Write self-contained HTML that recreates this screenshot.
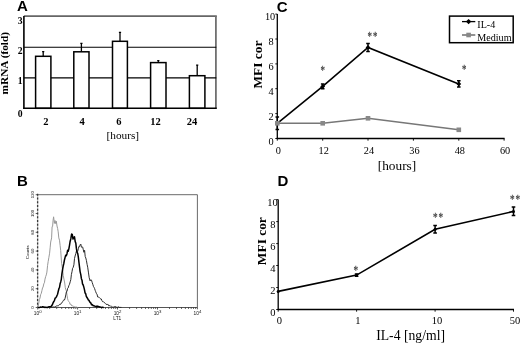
<!DOCTYPE html>
<html><head><meta charset="utf-8"><title>Figure</title>
<style>
html,body{margin:0;padding:0;background:#fff;}
svg{display:block;filter:grayscale(1);}
text{font-family:"Liberation Serif","Times New Roman",serif;fill:#000;}
.lab{font-family:"Liberation Sans",Arial,sans-serif;font-weight:bold;font-size:15px;}
.b{font-weight:bold;}
.tiny{font-family:"Liberation Sans",Arial,sans-serif;font-size:4.8px;fill:#111;}
</style></head><body>
<svg width="520" height="343" viewBox="0 0 520 343">
<rect width="520" height="343" fill="#fff"/>

<g id="panelA">
<text class="lab" x="16.9" y="11">A</text>
<line x1="23.9" y1="16.1" x2="216.8" y2="16.1" stroke="#666" stroke-width="1.7"/>
<line x1="215.9" y1="16.1" x2="215.9" y2="108.35" stroke="#707070" stroke-width="1.8"/>
<line x1="23.9" y1="77.9" x2="216.3" y2="77.9" stroke="#000" stroke-width="1.15"/>
<line x1="23.9" y1="47.2" x2="216.3" y2="47.2" stroke="#000" stroke-width="1.15"/>
<rect x="35.6" y="56.3" width="15.299999999999997" height="52.0" fill="#fff" stroke="#000" stroke-width="1.5"/>
<path d="M43.2 56.3V51.3M42.1 51.699999999999996h2.2" stroke="#000" stroke-width="1.3" fill="none"/>
<rect x="73.8" y="51.8" width="15.200000000000003" height="56.5" fill="#fff" stroke="#000" stroke-width="1.5"/>
<path d="M81.4 51.8V43.0M80.3 43.4h2.2" stroke="#000" stroke-width="1.3" fill="none"/>
<rect x="112.5" y="41.3" width="14.900000000000006" height="67.0" fill="#fff" stroke="#000" stroke-width="1.5"/>
<path d="M120.0 41.3V32M118.9 32.4h2.2" stroke="#000" stroke-width="1.3" fill="none"/>
<rect x="150.6" y="62.6" width="15.400000000000006" height="45.7" fill="#fff" stroke="#000" stroke-width="1.5"/>
<path d="M158.3 62.6V60.3M157.2 60.699999999999996h2.2" stroke="#000" stroke-width="1.3" fill="none"/>
<rect x="189.4" y="75.7" width="15.5" height="32.6" fill="#fff" stroke="#000" stroke-width="1.5"/>
<path d="M197.2 75.7V64.7M196.1 65.10000000000001h2.2" stroke="#000" stroke-width="1.3" fill="none"/>
<line x1="23.9" y1="15.899999999999999" x2="23.9" y2="108.94999999999999" stroke="#000" stroke-width="1.6"/>
<line x1="23.299999999999997" y1="108.35" x2="216.8" y2="108.35" stroke="#000" stroke-width="1.5"/>
<text class="b" font-size="9.7" x="22.6" y="23.7" text-anchor="end">3</text>
<text class="b" font-size="9.7" x="22.6" y="54.1" text-anchor="end">2</text>
<text class="b" font-size="9.7" x="22.6" y="84.3" text-anchor="end">1</text>
<text class="b" font-size="9.7" x="22.6" y="117" text-anchor="end">0</text>
<text class="b" font-size="10.5" x="45.8" y="124.6" text-anchor="middle">2</text>
<text class="b" font-size="10.5" x="82" y="124.6" text-anchor="middle">4</text>
<text class="b" font-size="10.5" x="118.8" y="124.6" text-anchor="middle">6</text>
<text class="b" font-size="10.5" x="155.5" y="124.6" text-anchor="middle">12</text>
<text class="b" font-size="10.5" x="192" y="124.6" text-anchor="middle">24</text>
<text font-size="11.3" x="122.8" y="138.8" text-anchor="middle">[hours]</text>
<text class="b" font-size="11.3" transform="translate(7.7,63.2) rotate(-90)" text-anchor="middle">mRNA (fold)</text>
</g>
<g id="panelB">
<text class="lab" x="17" y="186.2">B</text>
<path d="M37.7 194.7H197.4V307.5" fill="none" stroke="#444" stroke-width="0.8"/>
<line x1="37.7" y1="194.7" x2="37.7" y2="307.5" stroke="#999" stroke-width="0.7"/>
<line x1="37.6" y1="193.7" x2="37.6" y2="307.5" stroke="#3a3a3a" stroke-width="1.3" stroke-dasharray="2 1.76"/>
<line x1="35.7" y1="194.7" x2="37.7" y2="194.7" stroke="#333" stroke-width="0.8"/>
<line x1="35.7" y1="213.5" x2="37.7" y2="213.5" stroke="#333" stroke-width="0.8"/>
<line x1="35.7" y1="232.3" x2="37.7" y2="232.3" stroke="#333" stroke-width="0.8"/>
<line x1="35.7" y1="251.1" x2="37.7" y2="251.1" stroke="#333" stroke-width="0.8"/>
<line x1="35.7" y1="269.9" x2="37.7" y2="269.9" stroke="#333" stroke-width="0.8"/>
<line x1="35.7" y1="288.7" x2="37.7" y2="288.7" stroke="#333" stroke-width="0.8"/>
<line x1="35.7" y1="307.5" x2="37.7" y2="307.5" stroke="#333" stroke-width="0.8"/>
<line x1="37.7" y1="307.5" x2="197.4" y2="307.5" stroke="#555" stroke-width="1.1"/>
<path d="M37.7 307.5v2.0M49.7 307.5v1.4M56.7 307.5v1.4M61.7 307.5v1.4M65.6 307.5v1.4M68.8 307.5v1.4M71.4 307.5v1.4M73.8 307.5v1.4M75.8 307.5v1.4M77.6 307.5v2.0M89.6 307.5v1.4M96.7 307.5v1.4M101.7 307.5v1.4M105.5 307.5v1.4M108.7 307.5v1.4M111.4 307.5v1.4M113.7 307.5v1.4M115.7 307.5v1.4M117.5 307.5v2.0M129.6 307.5v1.4M136.6 307.5v1.4M141.6 307.5v1.4M145.5 307.5v1.4M148.6 307.5v1.4M151.3 307.5v1.4M153.6 307.5v1.4M155.6 307.5v1.4M157.5 307.5v2.0M169.5 307.5v1.4M176.5 307.5v1.4M181.5 307.5v1.4M185.4 307.5v1.4M188.5 307.5v1.4M191.2 307.5v1.4M193.5 307.5v1.4M195.6 307.5v1.4M197.4 307.5v1.8" stroke="#222" stroke-width="0.75" fill="none"/>
<polyline points="38.1,306.3 38.8,302.9 39.4,299.5 40.0,298.0 40.6,294.7 41.3,293.3 41.9,290.7 42.5,288.0 43.1,287.0 43.8,283.8 44.4,282.8 45.0,279.1 45.7,276.5 46.3,274.9 46.9,272.1 47.6,265.3 48.2,261.4 48.9,257.3 49.6,253.2 50.2,247.2 50.7,242.0 51.6,237.9 52.1,226.6 52.6,226.5 53.1,220.2 53.6,216.8 54.4,223.4 55.0,220.5 55.7,223.6 56.3,221.2 57.0,226.0 57.6,228.4 58.2,231.8 58.8,237.9 59.5,240.2 60.1,245.3 60.7,250.6 61.6,263.2 62.1,266.4 62.7,270.2 63.2,275.4 64.1,279.9 64.7,283.0 65.3,287.7 65.8,289.7 66.4,290.9 67.0,295.2 67.6,298.8 68.2,300.6 68.8,301.6 69.5,302.3 70.1,304.4 70.7,304.0 71.3,305.0 72.0,306.0 72.6,305.9 73.2,306.4 73.7,306.1 74.3,306.8 74.9,307.1 75.4,307.0 76.0,307.4 76.6,307.0 77.1,307.4 77.7,307.4" fill="none" stroke="#999" stroke-width="1"/>
<polyline points="51.3,307.1 51.9,307.1 52.5,307.0 53.2,306.8 53.8,307.1 54.4,307.1 55.0,306.5 55.7,306.6 56.3,305.8 56.9,306.2 57.5,305.8 58.2,305.9 58.8,305.4 59.4,304.5 60.0,304.3 60.7,304.3 61.3,303.2 61.9,302.9 62.6,301.7 63.2,300.8 63.8,299.8 64.5,300.0 65.1,298.2 65.8,294.9 66.4,291.8 67.0,291.5 67.6,288.4 68.2,287.9 68.8,285.7 69.5,284.3 70.2,281.8 70.8,279.6 71.4,274.5 72.0,271.7 72.6,268.3 73.2,267.4 73.9,264.8 74.5,258.5 75.1,256.0 75.8,253.7 76.4,251.2 77.1,251.7 77.7,251.4 78.3,248.8 78.9,246.4 79.5,246.7 80.2,244.7 80.8,244.0 81.4,247.2 82.1,246.9 82.7,247.1 83.3,249.8 83.9,252.3 84.6,250.3 85.2,256.5 85.8,258.0 86.4,260.4 87.1,264.4 87.7,267.2 88.5,272.9 89.2,277.7 90.1,280.9 90.8,279.7 91.5,280.2 92.2,282.5 92.8,284.3 93.5,286.6 94.0,287.3 94.6,288.6 95.2,290.4 95.7,291.7 96.4,293.5 97.0,294.1 97.7,297.0 98.2,297.1 98.8,297.0 99.4,297.7 100.0,298.4 100.7,298.9 101.3,299.0 101.9,300.6 102.5,301.6 103.2,301.5 103.8,302.3 104.5,302.5 105.1,303.3 105.7,303.9 106.3,304.0 107.0,305.0 107.6,304.4 108.2,304.5 108.8,305.9 109.4,305.7 110.1,305.6 110.7,306.3 111.3,306.1 111.9,306.7 112.6,307.2 113.2,307.1 113.8,307.0 114.4,306.6 115.1,306.7 115.7,306.5 116.3,307.2 117.0,307.0 117.6,307.3 118.2,306.9 118.9,306.9 119.5,307.4 120.1,307.4 120.8,307.4 121.4,307.4" fill="none" stroke="#222" stroke-width="0.95"/>
<polyline points="38.0,307.4 38.6,307.4 39.2,307.4 39.8,307.4 40.4,307.0 41.0,307.3 41.6,307.1 42.2,306.8 42.8,306.8 43.4,307.0 44.0,307.0 44.7,307.4 45.3,307.4 45.9,307.1 46.5,307.4 47.1,307.4 47.7,307.4 48.3,306.9 48.9,306.8 49.5,306.8 50.1,306.7 50.7,306.7 51.3,306.1 52.0,305.3 52.6,304.2 53.2,302.5 53.9,301.5 54.5,300.4 55.1,298.2 55.7,297.8 56.4,296.9 57.0,295.5 57.6,294.2 58.2,291.5 58.9,288.7 59.5,287.5 60.1,283.8 60.7,281.9 61.3,279.5 61.9,273.8 62.6,269.3 63.2,266.2 63.8,263.5 64.5,259.7 65.1,257.4 65.7,255.2 66.3,255.8 67.0,253.7 67.6,250.3 68.2,251.3 68.8,249.1 69.5,245.3 70.1,241.5 70.8,238.9 71.6,234.1 72.3,234.5 73.0,239.1 73.8,237.6 74.5,236.8 75.2,241.6 75.8,243.0 76.4,248.4 77.0,252.1 77.7,253.3 78.3,256.8 78.9,262.0 79.5,266.9 80.1,271.6 80.8,274.6 81.4,278.7 82.0,280.2 82.5,283.8 83.2,285.0 83.9,287.4 84.5,289.9 85.0,292.7 85.7,293.7 86.3,296.3 87.0,297.5 87.7,298.7 88.3,299.9 89.0,300.4 89.6,301.8 90.2,302.4 90.9,303.1 91.5,304.8 92.1,304.5 92.7,305.1 93.2,305.7 93.8,305.8 94.4,305.9 95.0,306.2 95.7,306.4 96.3,306.7 97.0,306.1 97.6,306.7 98.2,306.4 98.8,306.5 99.5,307.1 100.1,306.9 100.7,307.1 101.3,307.3 101.9,307.4 102.6,307.2 103.2,307.4 103.8,307.4" fill="none" stroke="#000" stroke-width="1.5" stroke-linejoin="round"/>
<text class="tiny" style="font-size:4.2px" transform="translate(34.3,194.7) rotate(-90)" text-anchor="middle">120</text>
<text class="tiny" style="font-size:4.2px" transform="translate(34.3,213.5) rotate(-90)" text-anchor="middle">100</text>
<text class="tiny" style="font-size:4.2px" transform="translate(34.3,232.3) rotate(-90)" text-anchor="middle">80</text>
<text class="tiny" style="font-size:4.2px" transform="translate(34.3,251.1) rotate(-90)" text-anchor="middle">60</text>
<text class="tiny" style="font-size:4.2px" transform="translate(34.3,269.9) rotate(-90)" text-anchor="middle">40</text>
<text class="tiny" style="font-size:4.2px" transform="translate(34.3,288.7) rotate(-90)" text-anchor="middle">20</text>
<text class="tiny" style="font-size:4.2px" transform="translate(34.3,307.5) rotate(-90)" text-anchor="middle">0</text>
<text class="tiny" style="font-size:4.4px" transform="translate(28.6,252.2) rotate(-90)" text-anchor="middle">Counts</text>
<text class="tiny" x="37.7" y="315.4" text-anchor="middle">10<tspan dy="-2.1" font-size="4.3">0</tspan></text>
<text class="tiny" x="77.6" y="315.4" text-anchor="middle">10<tspan dy="-2.1" font-size="4.3">1</tspan></text>
<text class="tiny" x="117.5" y="315.4" text-anchor="middle">10<tspan dy="-2.1" font-size="4.3">2</tspan></text>
<text class="tiny" x="157.5" y="315.4" text-anchor="middle">10<tspan dy="-2.1" font-size="4.3">3</tspan></text>
<text class="tiny" x="197.4" y="315.4" text-anchor="middle">10<tspan dy="-2.1" font-size="4.3">4</tspan></text>
<text class="tiny" x="117.3" y="319.8" text-anchor="middle">LT1</text>
</g>
<g id="panelC">
<text class="lab" x="276.8" y="12">C</text>
<line x1="277.3" y1="14.1" x2="277.3" y2="139.1" stroke="#000" stroke-width="1.3"/>
<line x1="276.7" y1="138.5" x2="504.6" y2="138.5" stroke="#000" stroke-width="1.3"/>
<line x1="277.3" y1="138.5" x2="277.3" y2="140.7" stroke="#000" stroke-width="0.9"/>
<text font-size="10.3" x="278.3" y="153.5" text-anchor="middle">0</text>
<line x1="322.7" y1="138.5" x2="322.7" y2="140.7" stroke="#000" stroke-width="0.9"/>
<text font-size="10.3" x="323.7" y="153.5" text-anchor="middle">12</text>
<line x1="368.0" y1="138.5" x2="368.0" y2="140.7" stroke="#000" stroke-width="0.9"/>
<text font-size="10.3" x="369.0" y="153.5" text-anchor="middle">24</text>
<line x1="413.4" y1="138.5" x2="413.4" y2="140.7" stroke="#000" stroke-width="0.9"/>
<text font-size="10.3" x="414.4" y="153.5" text-anchor="middle">36</text>
<line x1="458.8" y1="138.5" x2="458.8" y2="140.7" stroke="#000" stroke-width="0.9"/>
<text font-size="10.3" x="459.8" y="153.5" text-anchor="middle">48</text>
<line x1="504.1" y1="138.5" x2="504.1" y2="140.7" stroke="#000" stroke-width="0.9"/>
<text font-size="10.3" x="505.1" y="153.5" text-anchor="middle">60</text>
<line x1="275.3" y1="138.5" x2="277.3" y2="138.5" stroke="#000" stroke-width="0.9"/>
<text font-size="10.3" x="273.6" y="144.8" text-anchor="end">0</text>
<line x1="275.3" y1="113.6" x2="277.3" y2="113.6" stroke="#000" stroke-width="0.9"/>
<text font-size="10.3" x="273.6" y="119.9" text-anchor="end">2</text>
<line x1="275.3" y1="88.7" x2="277.3" y2="88.7" stroke="#000" stroke-width="0.9"/>
<text font-size="10.3" x="273.6" y="95.0" text-anchor="end">4</text>
<line x1="275.3" y1="63.9" x2="277.3" y2="63.9" stroke="#000" stroke-width="0.9"/>
<text font-size="10.3" x="273.6" y="70.2" text-anchor="end">6</text>
<line x1="275.3" y1="39.0" x2="277.3" y2="39.0" stroke="#000" stroke-width="0.9"/>
<text font-size="10.3" x="273.6" y="45.3" text-anchor="end">8</text>
<line x1="275.3" y1="14.1" x2="277.3" y2="14.1" stroke="#000" stroke-width="0.9"/>
<text font-size="10.3" x="275.2" y="20.4" text-anchor="end">10</text>
<text font-size="13.3" x="397" y="169.5" text-anchor="middle">[hours]</text>
<text class="b" font-size="13.4" transform="translate(262.4,64.6) rotate(-90)" text-anchor="middle">MFI cor</text>
<polyline points="277.3,123.3 322.7,86.4 368.0,47.4 458.8,83.9" fill="none" stroke="#000" stroke-width="1.6"/>
<path d="M277.3 120.9l2.4 2.4l-2.4 2.4l-2.4 -2.4z" fill="#000"/>
<path d="M277.3 117.1V129.5M275.5 117.1h3.6M275.5 129.5h3.6" stroke="#000" stroke-width="1.5" fill="none"/>
<path d="M322.7 84.0l2.4 2.4l-2.4 2.4l-2.4 -2.4z" fill="#000"/>
<path d="M322.7 84.1V88.7M320.9 84.1h3.6M320.9 88.7h3.6" stroke="#000" stroke-width="1.5" fill="none"/>
<path d="M368.0 45.0l2.4 2.4l-2.4 2.4l-2.4 -2.4z" fill="#000"/>
<path d="M368.0 43.5V51.4M366.2 43.5h3.6M366.2 51.4h3.6" stroke="#000" stroke-width="1.5" fill="none"/>
<path d="M458.8 81.5l2.4 2.4l-2.4 2.4l-2.4 -2.4z" fill="#000"/>
<path d="M458.8 80.8V86.9M457.0 80.8h3.6M457.0 86.9h3.6" stroke="#000" stroke-width="1.5" fill="none"/>
<polyline points="277.3,123.3 322.7,123.3 368.0,118.3 458.8,129.8" fill="none" stroke="#777" stroke-width="1.6"/>
<rect x="275.0" y="121.0" width="4.6" height="4.6" fill="#888"/>
<rect x="320.4" y="121.0" width="4.6" height="4.6" fill="#888"/>
<rect x="365.7" y="116.0" width="4.6" height="4.6" fill="#888"/>
<rect x="456.5" y="127.5" width="4.6" height="4.6" fill="#888"/>
<text font-size="11" transform="translate(322.7,73.7) scale(0.8,1.05)" text-anchor="middle" style="fill:#444;stroke:#444;stroke-width:0.25">*</text>
<text font-size="11" transform="translate(369.8,40.2) scale(0.8,1.05)" text-anchor="middle" style="fill:#444;stroke:#444;stroke-width:0.25">*</text>
<text font-size="11" transform="translate(375.2,40.2) scale(0.8,1.05)" text-anchor="middle" style="fill:#444;stroke:#444;stroke-width:0.25">*</text>
<text font-size="11" transform="translate(464.2,72.9) scale(0.8,1.05)" text-anchor="middle" style="fill:#444;stroke:#444;stroke-width:0.25">*</text>
<rect x="449.5" y="16.1" width="63.7" height="26.6" fill="#fff" stroke="#000" stroke-width="1.5"/>
<line x1="462" y1="21.6" x2="475.3" y2="21.6" stroke="#000" stroke-width="1.3"/>
<path d="M468.6 18.9l2.7 2.7l-2.7 2.7l-2.7 -2.7z" fill="#000"/>
<line x1="462" y1="35" x2="475.3" y2="35" stroke="#777" stroke-width="1.6"/>
<rect x="466.3" y="32.7" width="4.6" height="4.6" fill="#888"/>
<text font-size="10.1" x="477.3" y="27.5">IL-4</text>
<text font-size="10.1" x="477.3" y="40.8">Medium</text>
</g>
<g id="panelD">
<text class="lab" x="277.6" y="186.4">D</text>
<line x1="278.2" y1="199.6" x2="278.2" y2="310.1" stroke="#000" stroke-width="1.3"/>
<line x1="277.59999999999997" y1="309.5" x2="514.0" y2="309.5" stroke="#000" stroke-width="1.3"/>
<line x1="278.2" y1="309.5" x2="278.2" y2="311.7" stroke="#000" stroke-width="0.9"/>
<text font-size="10.5" x="279.4" y="323.9" text-anchor="middle">0</text>
<line x1="356.6" y1="309.5" x2="356.6" y2="311.7" stroke="#000" stroke-width="0.9"/>
<text font-size="10.5" x="357.8" y="323.9" text-anchor="middle">1</text>
<line x1="435.1" y1="309.5" x2="435.1" y2="311.7" stroke="#000" stroke-width="0.9"/>
<text font-size="10.5" x="437.0" y="323.9" text-anchor="middle">10</text>
<line x1="513.5" y1="309.5" x2="513.5" y2="311.7" stroke="#000" stroke-width="0.9"/>
<text font-size="10.5" x="515.0" y="323.9" text-anchor="middle">50</text>
<line x1="276.2" y1="309.5" x2="278.2" y2="309.5" stroke="#000" stroke-width="0.9"/>
<text font-size="10.5" transform="translate(275.4,316.2) scale(1,0.9)" text-anchor="end">0</text>
<line x1="276.2" y1="287.5" x2="278.2" y2="287.5" stroke="#000" stroke-width="0.9"/>
<text font-size="10.5" transform="translate(275.4,294.2) scale(1,0.9)" text-anchor="end">2</text>
<line x1="276.2" y1="265.5" x2="278.2" y2="265.5" stroke="#000" stroke-width="0.9"/>
<text font-size="10.5" transform="translate(275.4,272.2) scale(1,0.9)" text-anchor="end">4</text>
<line x1="276.2" y1="243.6" x2="278.2" y2="243.6" stroke="#000" stroke-width="0.9"/>
<text font-size="10.5" transform="translate(275.4,250.3) scale(1,0.9)" text-anchor="end">6</text>
<line x1="276.2" y1="221.6" x2="278.2" y2="221.6" stroke="#000" stroke-width="0.9"/>
<text font-size="10.5" transform="translate(275.4,228.3) scale(1,0.9)" text-anchor="end">8</text>
<line x1="276.2" y1="199.6" x2="278.2" y2="199.6" stroke="#000" stroke-width="0.9"/>
<text font-size="10.5" transform="translate(277.8,206.3) scale(1,0.9)" text-anchor="end">10</text>
<text font-size="13.7" x="410.6" y="340.3" text-anchor="middle">IL-4 [ng/ml]</text>
<text class="b" font-size="13.4" transform="translate(265.5,241.2) rotate(-90)" text-anchor="middle">MFI cor</text>
<polyline points="278.2,291.4 356.6,275.1 435.1,229.3 513.5,211.4" fill="none" stroke="#000" stroke-width="1.6"/>
<circle cx="278.2" cy="291.4" r="1.5" fill="#000"/>
<circle cx="356.6" cy="275.1" r="1.5" fill="#000"/>
<path d="M356.6 274.0V276.2M354.8 274.0h3.6M354.8 276.2h3.6" stroke="#000" stroke-width="1.5" fill="none"/>
<circle cx="435.1" cy="229.3" r="1.5" fill="#000"/>
<path d="M435.1 225.5V233.0M433.3 225.5h3.6M433.3 233.0h3.6" stroke="#000" stroke-width="1.5" fill="none"/>
<circle cx="513.5" cy="211.4" r="1.5" fill="#000"/>
<path d="M513.5 207.1V215.6M511.7 207.1h3.6M511.7 215.6h3.6" stroke="#000" stroke-width="1.5" fill="none"/>
<text font-size="11.5" transform="translate(355.8,273.9) scale(0.8,1.05)" text-anchor="middle" style="fill:#444;stroke:#444;stroke-width:0.25">*</text>
<text font-size="11.5" transform="translate(435.2,221.1) scale(0.8,1.05)" text-anchor="middle" style="fill:#444;stroke:#444;stroke-width:0.25">*</text>
<text font-size="11.5" transform="translate(440.7,221.1) scale(0.8,1.05)" text-anchor="middle" style="fill:#444;stroke:#444;stroke-width:0.25">*</text>
<text font-size="11.5" transform="translate(512.4,202.9) scale(0.8,1.05)" text-anchor="middle" style="fill:#444;stroke:#444;stroke-width:0.25">*</text>
<text font-size="11.5" transform="translate(517.9,202.9) scale(0.8,1.05)" text-anchor="middle" style="fill:#444;stroke:#444;stroke-width:0.25">*</text>
</g>
</svg></body></html>
